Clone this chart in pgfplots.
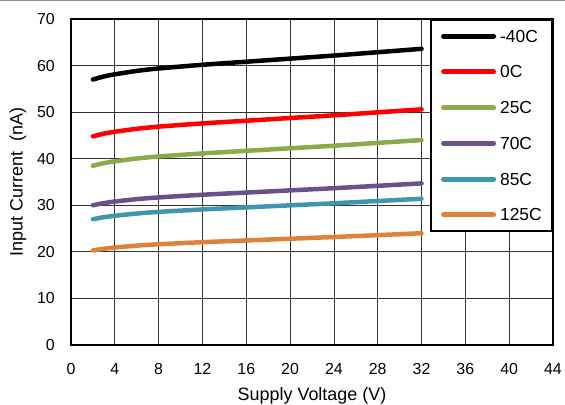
\documentclass[border=0pt]{standalone}
\usepackage{pgfplots}
\pgfplotsset{compat=1.18}
\usepackage{fontspec}
\setmainfont{Liberation Sans}
\definecolor{cgreen}{RGB}{139,170,74}
\definecolor{cpurple}{RGB}{107,81,140}
\definecolor{cteal}{RGB}{62,150,176}
\definecolor{corange}{RGB}{222,130,57}
\begin{document}
\begin{tikzpicture}
\useasboundingbox (0,0) rectangle (565bp,405bp);
\draw[black!45, line width=1bp] (0,404.5bp) -- (565bp,404.5bp);
\begin{axis}[
  at={(71bp,60bp)}, anchor=south west,
  scale only axis, width=482bp, height=326bp,
  xmin=0, xmax=44, ymin=0, ymax=70,
  xtick={0,4,...,44}, ytick={0,10,...,70},
  grid=major,
  major grid style={black!80, line width=0.8bp},
  major tick length=0pt,
  axis line style={line width=2bp, black},
  /pgf/number format/assume math mode=true,
  tick label style={font=\fontsize{16}{19}\selectfont, inner sep=0pt},
  xticklabel shift=18bp,
  yticklabel shift=16bp,
  xlabel={Supply Voltage (V)},
  ylabel={Input Current~ (nA)},
  label style={font=\fontsize{18}{21}\selectfont},
  xlabel style={at={(axis description cs:0.5,-0.169)}, anchor=base},
  ylabel style={at={(axis description cs:-0.110,0.5)}, anchor=center, rotate=0},
  legend style={at={(1,1)}, anchor=north east, draw=black, line width=2bp, fill=white,
    font=\fontsize{17.5}{20}\selectfont,
    nodes={inner sep=0pt, text height=12bp, text depth=0bp, anchor=west},
    row sep=23.7bp, inner sep=10.25bp,
    /tikz/every odd column/.append style={column sep=4bp}},
  legend cell align=left,
  legend image code/.code={\draw[line width=5bp, line cap=round] (0bp,0bp) -- (50bp,0bp);},
  every axis plot/.append style={line width=4.5bp, line cap=round, smooth, no markers},
]
\addplot[black] coordinates {(2,57.0)(3,57.66)(4,58.12)(6,58.85)(8,59.38)(12,60.17)(16,60.83)(20,61.49)(24,62.15)(28,62.87)(32,63.6)};
\addlegendentry{-40C}
\addplot[red] coordinates {(2,44.8)(3,45.38)(4,45.79)(6,46.42)(8,46.89)(12,47.58)(16,48.16)(20,48.74)(24,49.32)(28,49.96)(32,50.6)};
\addlegendentry{0C}
\addplot[cgreen] coordinates {(2,38.5)(3,39.05)(4,39.44)(6,40.04)(8,40.48)(12,41.14)(16,41.69)(20,42.24)(24,42.79)(28,43.40)(32,44.0)};
\addlegendentry{25C}
\addplot[cpurple] coordinates {(2,30.0)(3,30.47)(4,30.80)(6,31.32)(8,31.69)(12,32.26)(16,32.73)(20,33.20)(24,33.67)(28,34.18)(32,34.7)};
\addlegendentry{70C}
\addplot[cteal] coordinates {(2,27.0)(3,27.44)(4,27.75)(6,28.23)(8,28.58)(12,29.11)(16,29.55)(20,29.99)(24,30.43)(28,30.92)(32,31.4)};
\addlegendentry{85C}
\addplot[corange] coordinates {(2,20.3)(3,20.67)(4,20.93)(6,21.34)(8,21.63)(12,22.08)(16,22.45)(20,22.82)(24,23.19)(28,23.59)(32,24.0)};
\addlegendentry{125C}
\end{axis}
\end{tikzpicture}
\end{document}
